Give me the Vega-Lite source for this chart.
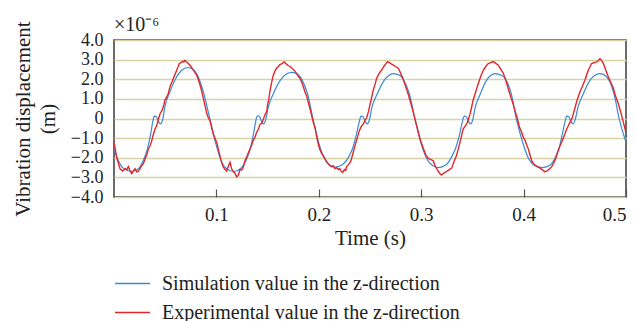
{
  "$schema": "https://vega.github.io/schema/vega-lite/v6.json",
  "autosize": {"type": "none"},
  "padding": {"left": 114, "top": 40, "right": 12, "bottom": 124},
  "width": 512,
  "height": 157,
  "background": "white",
  "config": {
    "font": "Liberation Serif",
    "view": {"stroke": "#3a3a3a", "strokeWidth": 1.5}
  },
  "title": {
    "text": "×10⁻⁶",
    "anchor": "start",
    "frame": "group",
    "font": "Liberation Serif",
    "fontSize": 20,
    "fontWeight": "normal",
    "color": "#222",
    "offset": -14
  },
  "datasets": {
    "sim": [
      {"t": 0.0000, "v": -1.56}, {"t": 0.0042, "v": -2.14}, {"t": 0.0091, "v": -2.53}, {"t": 0.0173, "v": -2.70},
      {"t": 0.0238, "v": -2.56}, {"t": 0.0286, "v": -2.14}, {"t": 0.0326, "v": -1.56}, {"t": 0.0358, "v": -0.80},
      {"t": 0.0378, "v": -0.17}, {"t": 0.0394, "v": 0.12}, {"t": 0.0417, "v": 0.07}, {"t": 0.0436, "v": -0.17},
      {"t": 0.0456, "v": -0.27}, {"t": 0.0475, "v": -0.05}, {"t": 0.0498, "v": 0.62}, {"t": 0.0547, "v": 1.37},
      {"t": 0.0612, "v": 2.13}, {"t": 0.0661, "v": 2.46}, {"t": 0.0716, "v": 2.60}, {"t": 0.0774, "v": 2.50},
      {"t": 0.0814, "v": 2.21}, {"t": 0.0872, "v": 1.37}, {"t": 0.0938, "v": -0.05}, {"t": 0.0996, "v": -1.31},
      {"t": 0.1052, "v": -2.23}, {"t": 0.1100, "v": -2.56}, {"t": 0.1170, "v": -2.70},
      {"t": 0.1235, "v": -2.56}, {"t": 0.1290, "v": -2.14}, {"t": 0.1330, "v": -1.56}, {"t": 0.1362, "v": -0.80},
      {"t": 0.1383, "v": -0.17}, {"t": 0.1400, "v": 0.14}, {"t": 0.1423, "v": 0.08}, {"t": 0.1442, "v": -0.17},
      {"t": 0.1462, "v": -0.27}, {"t": 0.1482, "v": -0.05}, {"t": 0.1505, "v": 0.55}, {"t": 0.1555, "v": 1.25},
      {"t": 0.1620, "v": 1.92}, {"t": 0.1670, "v": 2.22}, {"t": 0.1735, "v": 2.35}, {"t": 0.1795, "v": 2.25},
      {"t": 0.1835, "v": 1.98}, {"t": 0.1890, "v": 1.25}, {"t": 0.1945, "v": -0.05}, {"t": 0.2000, "v": -1.25},
      {"t": 0.2055, "v": -2.05}, {"t": 0.2105, "v": -2.38}, {"t": 0.2158, "v": -2.48},
      {"t": 0.2230, "v": -2.36}, {"t": 0.2290, "v": -1.98}, {"t": 0.2335, "v": -1.45}, {"t": 0.2370, "v": -0.75},
      {"t": 0.2395, "v": -0.17}, {"t": 0.2412, "v": 0.12}, {"t": 0.2435, "v": 0.07}, {"t": 0.2455, "v": -0.17},
      {"t": 0.2475, "v": -0.27}, {"t": 0.2495, "v": -0.05}, {"t": 0.2518, "v": 0.55}, {"t": 0.2568, "v": 1.22},
      {"t": 0.2630, "v": 1.88}, {"t": 0.2680, "v": 2.18}, {"t": 0.2728, "v": 2.29}, {"t": 0.2790, "v": 2.20},
      {"t": 0.2830, "v": 1.95}, {"t": 0.2885, "v": 1.25}, {"t": 0.2940, "v": -0.05}, {"t": 0.2995, "v": -1.20},
      {"t": 0.3050, "v": -2.00}, {"t": 0.3110, "v": -2.40}, {"t": 0.3167, "v": -2.50},
      {"t": 0.3240, "v": -2.37}, {"t": 0.3295, "v": -1.98}, {"t": 0.3340, "v": -1.45}, {"t": 0.3378, "v": -0.75},
      {"t": 0.3402, "v": -0.17}, {"t": 0.3421, "v": 0.12}, {"t": 0.3444, "v": 0.07}, {"t": 0.3464, "v": -0.17},
      {"t": 0.3484, "v": -0.27}, {"t": 0.3504, "v": -0.05}, {"t": 0.3527, "v": 0.55}, {"t": 0.3575, "v": 1.22},
      {"t": 0.3630, "v": 1.88}, {"t": 0.3675, "v": 2.18}, {"t": 0.3721, "v": 2.29}, {"t": 0.3785, "v": 2.20},
      {"t": 0.3830, "v": 1.95}, {"t": 0.3880, "v": 1.25}, {"t": 0.3930, "v": -0.05}, {"t": 0.3990, "v": -1.20},
      {"t": 0.4045, "v": -2.00}, {"t": 0.4110, "v": -2.40}, {"t": 0.4185, "v": -2.50},
      {"t": 0.4260, "v": -2.37}, {"t": 0.4310, "v": -1.98}, {"t": 0.4350, "v": -1.45}, {"t": 0.4380, "v": -0.75},
      {"t": 0.4404, "v": -0.17}, {"t": 0.4421, "v": 0.12}, {"t": 0.4444, "v": 0.07}, {"t": 0.4464, "v": -0.17},
      {"t": 0.4484, "v": -0.27}, {"t": 0.4504, "v": -0.05}, {"t": 0.4530, "v": 0.55}, {"t": 0.4580, "v": 1.22},
      {"t": 0.4640, "v": 1.88}, {"t": 0.4690, "v": 2.18}, {"t": 0.4746, "v": 2.29}, {"t": 0.4800, "v": 2.18},
      {"t": 0.4840, "v": 1.90}, {"t": 0.4885, "v": 1.20}, {"t": 0.4935, "v": -0.05}, {"t": 0.4990, "v": -1.05},
      {"t": 0.5000, "v": -1.20}
    ],
    "exp": [
      {"t": 0.0000, "v": -1.22}, {"t": 0.0026, "v": -1.98}, {"t": 0.0059, "v": -2.56}, {"t": 0.0085, "v": -2.68},
      {"t": 0.0107, "v": -2.56}, {"t": 0.0125, "v": -2.62}, {"t": 0.0140, "v": -2.45}, {"t": 0.0160, "v": -2.70},
      {"t": 0.0173, "v": -2.81}, {"t": 0.0190, "v": -2.66}, {"t": 0.0205, "v": -2.56}, {"t": 0.0222, "v": -2.72},
      {"t": 0.0238, "v": -2.68}, {"t": 0.0255, "v": -2.55}, {"t": 0.0270, "v": -2.40}, {"t": 0.0287, "v": -2.30},
      {"t": 0.0303, "v": -2.06}, {"t": 0.0320, "v": -1.85}, {"t": 0.0335, "v": -1.56}, {"t": 0.0352, "v": -1.40},
      {"t": 0.0368, "v": -1.14}, {"t": 0.0385, "v": -0.80}, {"t": 0.0400, "v": -0.55}, {"t": 0.0418, "v": -0.35},
      {"t": 0.0433, "v": -0.05}, {"t": 0.0449, "v": 0.23}, {"t": 0.0462, "v": 0.35}, {"t": 0.0475, "v": 0.50},
      {"t": 0.0487, "v": 0.70}, {"t": 0.0498, "v": 0.95}, {"t": 0.0515, "v": 1.10}, {"t": 0.0531, "v": 1.29},
      {"t": 0.0543, "v": 1.55}, {"t": 0.0553, "v": 1.71}, {"t": 0.0570, "v": 1.90}, {"t": 0.0586, "v": 2.13},
      {"t": 0.0600, "v": 2.30}, {"t": 0.0612, "v": 2.46}, {"t": 0.0625, "v": 2.62}, {"t": 0.0638, "v": 2.80},
      {"t": 0.0655, "v": 2.85}, {"t": 0.0671, "v": 2.91}, {"t": 0.0682, "v": 2.88}, {"t": 0.0693, "v": 2.96},
      {"t": 0.0705, "v": 2.90}, {"t": 0.0716, "v": 2.85}, {"t": 0.0730, "v": 2.78}, {"t": 0.0742, "v": 2.71},
      {"t": 0.0758, "v": 2.60}, {"t": 0.0774, "v": 2.46}, {"t": 0.0790, "v": 2.35}, {"t": 0.0807, "v": 2.21},
      {"t": 0.0823, "v": 2.00}, {"t": 0.0840, "v": 1.71}, {"t": 0.0856, "v": 1.40}, {"t": 0.0872, "v": 1.04},
      {"t": 0.0889, "v": 0.65}, {"t": 0.0905, "v": 0.28}, {"t": 0.0920, "v": 0.05}, {"t": 0.0938, "v": -0.13},
      {"t": 0.0955, "v": -0.50}, {"t": 0.0970, "v": -0.80}, {"t": 0.0983, "v": -0.95}, {"t": 0.0996, "v": -1.14},
      {"t": 0.1008, "v": -1.30}, {"t": 0.1018, "v": -1.56}, {"t": 0.1030, "v": -1.80}, {"t": 0.1042, "v": -2.06},
      {"t": 0.1055, "v": -2.30}, {"t": 0.1068, "v": -2.48}, {"t": 0.1085, "v": -2.60}, {"t": 0.1100, "v": -2.68},
      {"t": 0.1115, "v": -2.45}, {"t": 0.1133, "v": -2.23}, {"t": 0.1148, "v": -2.55}, {"t": 0.1165, "v": -2.70},
      {"t": 0.1182, "v": -2.80}, {"t": 0.1198, "v": -2.97}, {"t": 0.1214, "v": -2.90}, {"t": 0.1230, "v": -2.60},
      {"t": 0.1247, "v": -2.62}, {"t": 0.1263, "v": -2.47}, {"t": 0.1280, "v": -2.14}, {"t": 0.1296, "v": -1.95},
      {"t": 0.1312, "v": -1.75}, {"t": 0.1328, "v": -1.55}, {"t": 0.1345, "v": -1.35}, {"t": 0.1361, "v": -1.10},
      {"t": 0.1377, "v": -0.95}, {"t": 0.1393, "v": -0.70}, {"t": 0.1410, "v": -0.55}, {"t": 0.1426, "v": -0.30},
      {"t": 0.1442, "v": -0.25}, {"t": 0.1458, "v": -0.05}, {"t": 0.1475, "v": 0.20}, {"t": 0.1491, "v": 0.35},
      {"t": 0.1500, "v": 0.70}, {"t": 0.1512, "v": 1.00}, {"t": 0.1523, "v": 1.40}, {"t": 0.1540, "v": 1.85},
      {"t": 0.1556, "v": 2.21}, {"t": 0.1575, "v": 2.45}, {"t": 0.1589, "v": 2.57}, {"t": 0.1605, "v": 2.65},
      {"t": 0.1621, "v": 2.75}, {"t": 0.1640, "v": 2.80}, {"t": 0.1654, "v": 2.85}, {"t": 0.1663, "v": 2.88},
      {"t": 0.1675, "v": 2.80}, {"t": 0.1686, "v": 2.77}, {"t": 0.1700, "v": 2.70}, {"t": 0.1719, "v": 2.65},
      {"t": 0.1735, "v": 2.57}, {"t": 0.1751, "v": 2.50}, {"t": 0.1768, "v": 2.40}, {"t": 0.1784, "v": 2.29},
      {"t": 0.1800, "v": 2.15}, {"t": 0.1816, "v": 2.05}, {"t": 0.1833, "v": 1.85}, {"t": 0.1849, "v": 1.62},
      {"t": 0.1865, "v": 1.35}, {"t": 0.1882, "v": 1.14}, {"t": 0.1898, "v": 0.80}, {"t": 0.1914, "v": 0.50},
      {"t": 0.1930, "v": 0.15}, {"t": 0.1946, "v": -0.20}, {"t": 0.1963, "v": -0.47}, {"t": 0.1980, "v": -0.95},
      {"t": 0.1995, "v": -1.30}, {"t": 0.2012, "v": -1.60}, {"t": 0.2030, "v": -1.80}, {"t": 0.2045, "v": -1.90},
      {"t": 0.2061, "v": -2.05}, {"t": 0.2077, "v": -2.20}, {"t": 0.2093, "v": -2.30}, {"t": 0.2109, "v": -2.40},
      {"t": 0.2125, "v": -2.45}, {"t": 0.2140, "v": -2.40}, {"t": 0.2158, "v": -2.55}, {"t": 0.2175, "v": -2.50},
      {"t": 0.2190, "v": -2.60}, {"t": 0.2205, "v": -2.55}, {"t": 0.2220, "v": -2.70}, {"t": 0.2233, "v": -2.75},
      {"t": 0.2250, "v": -2.60}, {"t": 0.2262, "v": -2.65}, {"t": 0.2272, "v": -2.45}, {"t": 0.2290, "v": -2.35},
      {"t": 0.2311, "v": -2.20}, {"t": 0.2330, "v": -1.85}, {"t": 0.2354, "v": -1.37}, {"t": 0.2375, "v": -1.00},
      {"t": 0.2396, "v": -0.62}, {"t": 0.2415, "v": -0.40}, {"t": 0.2435, "v": -0.28}, {"t": 0.2450, "v": -0.10},
      {"t": 0.2468, "v": 0.05}, {"t": 0.2485, "v": 0.35}, {"t": 0.2500, "v": 0.72}, {"t": 0.2517, "v": 1.10},
      {"t": 0.2533, "v": 1.47}, {"t": 0.2550, "v": 1.75}, {"t": 0.2565, "v": 2.05}, {"t": 0.2590, "v": 2.30},
      {"t": 0.2614, "v": 2.47}, {"t": 0.2635, "v": 2.65}, {"t": 0.2656, "v": 2.80}, {"t": 0.2670, "v": 2.90},
      {"t": 0.2689, "v": 2.85}, {"t": 0.2708, "v": 2.78}, {"t": 0.2728, "v": 2.72}, {"t": 0.2750, "v": 2.65},
      {"t": 0.2777, "v": 2.55}, {"t": 0.2800, "v": 2.30}, {"t": 0.2826, "v": 1.97}, {"t": 0.2850, "v": 1.60},
      {"t": 0.2874, "v": 1.22}, {"t": 0.2900, "v": 0.75}, {"t": 0.2923, "v": 0.30}, {"t": 0.2950, "v": -0.25},
      {"t": 0.2972, "v": -0.70}, {"t": 0.2995, "v": -1.15}, {"t": 0.3021, "v": -1.53}, {"t": 0.3045, "v": -1.85},
      {"t": 0.3070, "v": -2.03}, {"t": 0.3095, "v": -2.10}, {"t": 0.3118, "v": -2.15}, {"t": 0.3135, "v": -2.40},
      {"t": 0.3158, "v": -2.62}, {"t": 0.3175, "v": -2.75}, {"t": 0.3190, "v": -2.85}, {"t": 0.3200, "v": -2.87},
      {"t": 0.3220, "v": -2.78}, {"t": 0.3249, "v": -2.70}, {"t": 0.3270, "v": -2.62}, {"t": 0.3298, "v": -2.53},
      {"t": 0.3320, "v": -2.20}, {"t": 0.3346, "v": -1.87}, {"t": 0.3362, "v": -1.55}, {"t": 0.3379, "v": -1.20},
      {"t": 0.3395, "v": -0.85}, {"t": 0.3411, "v": -0.53}, {"t": 0.3428, "v": -0.40}, {"t": 0.3444, "v": -0.28},
      {"t": 0.3460, "v": -0.05}, {"t": 0.3477, "v": 0.22}, {"t": 0.3493, "v": 0.60}, {"t": 0.3509, "v": 0.97},
      {"t": 0.3535, "v": 1.40}, {"t": 0.3558, "v": 1.80}, {"t": 0.3582, "v": 2.15}, {"t": 0.3607, "v": 2.47},
      {"t": 0.3630, "v": 2.65}, {"t": 0.3655, "v": 2.80}, {"t": 0.3680, "v": 2.85}, {"t": 0.3704, "v": 2.90},
      {"t": 0.3725, "v": 2.82}, {"t": 0.3753, "v": 2.72}, {"t": 0.3778, "v": 2.50}, {"t": 0.3802, "v": 2.30},
      {"t": 0.3826, "v": 1.95}, {"t": 0.3851, "v": 1.50}, {"t": 0.3875, "v": 1.10}, {"t": 0.3900, "v": 0.70},
      {"t": 0.3916, "v": 0.40}, {"t": 0.3939, "v": 0.00}, {"t": 0.3960, "v": -0.45}, {"t": 0.3981, "v": -0.70},
      {"t": 0.4000, "v": -1.00}, {"t": 0.4014, "v": -1.10}, {"t": 0.4030, "v": -1.35}, {"t": 0.4046, "v": -1.55},
      {"t": 0.4062, "v": -1.85}, {"t": 0.4079, "v": -2.15}, {"t": 0.4095, "v": -2.30}, {"t": 0.4111, "v": -2.37},
      {"t": 0.4135, "v": -2.45}, {"t": 0.4160, "v": -2.53}, {"t": 0.4185, "v": -2.62}, {"t": 0.4209, "v": -2.72},
      {"t": 0.4225, "v": -2.68}, {"t": 0.4241, "v": -2.62}, {"t": 0.4258, "v": -2.55}, {"t": 0.4274, "v": -2.45},
      {"t": 0.4290, "v": -2.30}, {"t": 0.4307, "v": -2.12}, {"t": 0.4323, "v": -1.90}, {"t": 0.4339, "v": -1.62},
      {"t": 0.4355, "v": -1.40}, {"t": 0.4372, "v": -1.20}, {"t": 0.4388, "v": -1.00}, {"t": 0.4404, "v": -0.78},
      {"t": 0.4420, "v": -0.55}, {"t": 0.4437, "v": -0.37}, {"t": 0.4453, "v": -0.20}, {"t": 0.4470, "v": -0.03},
      {"t": 0.4486, "v": 0.25}, {"t": 0.4502, "v": 0.55}, {"t": 0.4518, "v": 0.85}, {"t": 0.4535, "v": 1.13},
      {"t": 0.4550, "v": 1.35}, {"t": 0.4567, "v": 1.55}, {"t": 0.4583, "v": 1.75}, {"t": 0.4600, "v": 1.97},
      {"t": 0.4615, "v": 2.20}, {"t": 0.4632, "v": 2.47}, {"t": 0.4650, "v": 2.65}, {"t": 0.4665, "v": 2.80},
      {"t": 0.4690, "v": 2.85}, {"t": 0.4714, "v": 2.88}, {"t": 0.4730, "v": 2.95}, {"t": 0.4746, "v": 3.05},
      {"t": 0.4762, "v": 2.95}, {"t": 0.4779, "v": 2.80}, {"t": 0.4800, "v": 2.50}, {"t": 0.4827, "v": 2.13},
      {"t": 0.4850, "v": 1.85}, {"t": 0.4876, "v": 1.55}, {"t": 0.4892, "v": 1.25}, {"t": 0.4909, "v": 0.97},
      {"t": 0.4925, "v": 0.75}, {"t": 0.4941, "v": 0.47}, {"t": 0.4958, "v": 0.15}, {"t": 0.4974, "v": -0.20},
      {"t": 0.4987, "v": -0.45}, {"t": 0.5000, "v": -0.75}
    ]
  },
  "encoding": {
    "x": {
      "field": "t", "type": "quantitative",
      "scale": {"domain": [0, 0.5], "nice": false, "zero": false},
      "axis": {
        "title": "Time (s)",
        "values": [0.1, 0.2, 0.3, 0.4, 0.5],
        "format": ".1f",
        "domain": false, "grid": false,
        "ticks": true, "tickSize": -8, "tickColor": "#555", "tickWidth": 1.2,
        "labelPadding": 16,
        "labelFont": "Liberation Serif", "labelFontSize": 19, "labelColor": "#222",
        "titleFont": "Liberation Serif", "titleFontSize": 21, "titleFontWeight": "normal", "titleColor": "#222",
        "titlePadding": 3
      }
    },
    "y": {
      "field": "v", "type": "quantitative",
      "scale": {"domain": [-4, 4], "nice": false},
      "axis": {
        "title": ["Vibration displacement", "(m)"],
        "values": [-4, -3, -2, -1, 0, 1, 2, 3, 4],
        "labelExpr": "datum.value == 0 ? '0' : format(datum.value, '.1f')",
        "domain": false, "ticks": false,
        "grid": true, "gridColor": "#d8d3a6", "gridWidth": 1.4,
        "labelPadding": 11,
        "labelFont": "Liberation Serif", "labelFontSize": 18, "labelColor": "#222",
        "titleFont": "Liberation Serif", "titleFontSize": 21, "titleFontWeight": "normal", "titleColor": "#222",
        "titleLineHeight": 25,
        "titlePadding": 12
      }
    }
  },
  "layer": [
    {
      "data": {"name": "sim"},
      "mark": {"type": "line", "strokeWidth": 1.2, "interpolate": "monotone", "clip": true},
      "encoding": {
        "color": {
          "datum": "Simulation value in the z-direction",
          "type": "nominal",
          "scale": {
            "domain": ["Simulation value in the z-direction", "Experimental value in the z-direction"],
            "range": ["#3a8ad3", "#e3262b"]
          },
          "legend": {
            "title": null,
            "orient": "none",
            "legendX": 0,
            "legendY": 225,
            "direction": "vertical",
            "symbolType": "stroke",
            "symbolSize": 1225,
            "symbolStrokeWidth": 1.5,
            "labelFont": "Liberation Serif",
            "labelFontSize": 20,
            "labelColor": "#222",
            "labelOffset": 11,
            "rowPadding": -14,
            "labelLimit": 500
          }
        }
      }
    },
    {
      "data": {"name": "exp"},
      "mark": {"type": "line", "strokeWidth": 1.4, "clip": true},
      "encoding": {
        "color": {"datum": "Experimental value in the z-direction", "type": "nominal"}
      }
    }
  ]
}
